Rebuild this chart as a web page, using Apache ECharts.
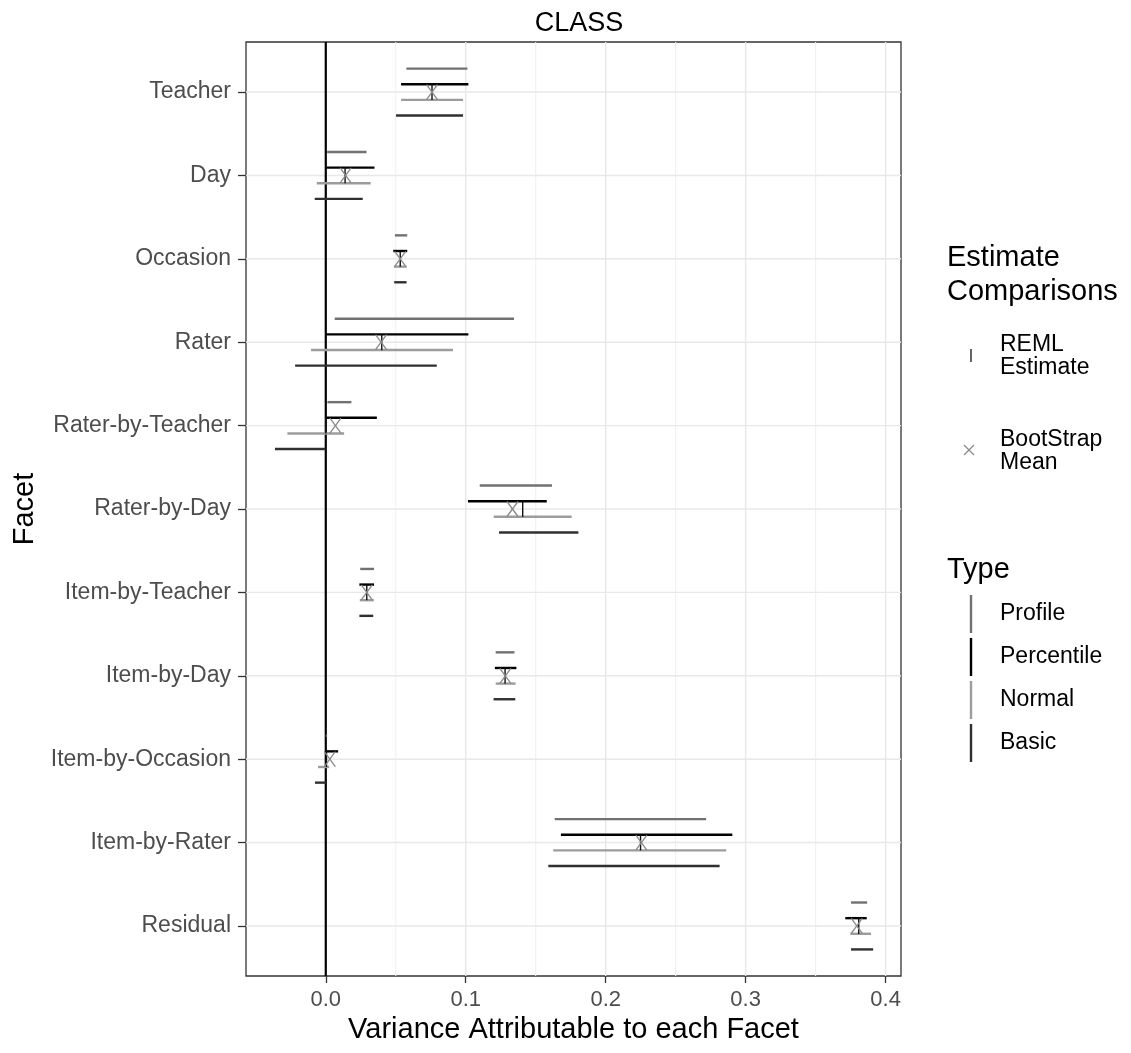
<!DOCTYPE html>
<html>
<head>
<meta charset="utf-8">
<script src="https://cdn.jsdelivr.net/npm/echarts@6/dist/echarts.min.js"></script>
<style>
html,body{margin:0;padding:0;background:#fff;}
#chart{width:1131px;height:1053px;}
</style>
</head>
<body>
<div id="chart"></div>
<script>
// ---- Data ----
const categories = ['Teacher','Day','Occasion','Rater','Rater-by-Teacher','Rater-by-Day','Item-by-Teacher','Item-by-Day','Item-by-Occasion','Item-by-Rater','Residual'];

const profileLow     = [0.0576, 0.0010, 0.0494, 0.0064, 0.0012, 0.1100, 0.0246, 0.1214, 0.0000, 0.1636, 0.3753];
const profileHigh    = [0.1012, 0.0291, 0.0582, 0.1345, 0.0183, 0.1616, 0.0345, 0.1348, 0.0010, 0.2718, 0.3868];
const percentileLow  = [0.0538, 0.0005, 0.0482, 0.0005, 0.0003, 0.1016, 0.0240, 0.1208, 0.0004, 0.1680, 0.3712];
const percentileHigh = [0.1019, 0.0348, 0.0582, 0.1019, 0.0365, 0.1579, 0.0345, 0.1362, 0.0088, 0.2905, 0.3865];
const normalLow      = [0.0538, -0.0064, 0.0487, -0.0105, -0.0274, 0.1200, 0.0243, 0.1214, -0.0055, 0.1625, 0.3748];
const normalHigh     = [0.0981, 0.0321, 0.0578, 0.0909, 0.0131, 0.1757, 0.0343, 0.1356, 0.0024, 0.2861, 0.3896];
const basicLow       = [0.0502, -0.0079, 0.0489, -0.0219, -0.0363, 0.1238, 0.0240, 0.1199, -0.0077, 0.1590, 0.3753];
const basicHigh      = [0.0981, 0.0264, 0.0577, 0.0793, -0.0002, 0.1805, 0.0339, 0.1354, 0.0000, 0.2814, 0.3911];
const remlEstimate   = [0.0759, 0.0138, 0.0532, 0.0400, 0.0000, 0.1407, 0.0293, 0.1281, 0.0005, 0.2249, 0.3808];
const bootstrapMean  = [0.0759, 0.0142, 0.0532, 0.0395, 0.0069, 0.1334, 0.0293, 0.1283, 0.0029, 0.2255, 0.3794];

const xTickValues = [0, 0.1, 0.2, 0.3, 0.4];
const xMinorGrid  = [0.05, 0.15, 0.25, 0.35];
const xRange = [-0.057, 0.411];

// ---- Styles ----
const FONT = '"Liberation Sans", Arial, sans-serif';
const typeNames  = ['Profile','Percentile','Normal','Basic'];
const typeColors = ['#717171','#000000','#9c9c9c','#303030'];
const dodge      = [-0.28125, -0.09375, 0.09375, 0.28125];
const typeLows   = [profileLow, percentileLow, normalLow, basicLow];
const typeHighs  = [profileHigh, percentileHigh, normalHigh, basicHigh];
const yTickValues = categories.map((c, i) => i);
const yRange = [-0.6, categories.length - 1 + 0.6];

function intervalSeries(k) {
  return {
    type: 'custom',
    name: typeNames[k],
    z: 5,
    encode: {x: [0, 1], y: 2},
    data: categories.map((c, i) => [typeLows[k][i], typeHighs[k][i], i]),
    renderItem: function (params, api) {
      const i = api.value(2);
      const p1 = api.coord([api.value(0), i + dodge[k]]);
      const p2 = api.coord([api.value(1), i + dodge[k]]);
      return {type: 'line', shape: {x1: p1[0], y1: p1[1], x2: p2[0], y2: p2[1]},
              style: {stroke: typeColors[k], lineWidth: 2.4}};
    }
  };
}

const series = [];
// vertical grid lines (major + minor)
series.push({
  type: 'custom', silent: true, z: 1, encode: {x: 0},
  data: xTickValues.map(v => [v, 1]).concat(xMinorGrid.map(v => [v, 0])),
  renderItem: function (params, api) {
    const v = api.value(0);
    const a = api.coord([v, yRange[0]]), b = api.coord([v, yRange[1]]);
    return {type: 'line', shape: {x1: a[0], y1: a[1], x2: b[0], y2: b[1]},
            style: {stroke: api.value(1) ? '#e8e8e8' : '#f0f0f0', lineWidth: api.value(1) ? 1.4 : 1.1}};
  }
});
// horizontal grid lines at categories
series.push({
  type: 'custom', silent: true, z: 1, encode: {y: 0},
  data: yTickValues.map(v => [v]),
  renderItem: function (params, api) {
    const v = api.value(0);
    const a = api.coord([xRange[0], v]), b = api.coord([xRange[1], v]);
    return {type: 'line', shape: {x1: a[0], y1: a[1], x2: b[0], y2: b[1]},
            style: {stroke: '#e8e8e8', lineWidth: 1.4}};
  }
});
// zero reference line
series.push({
  type: 'custom', silent: true, z: 3, encode: {x: 0},
  data: [[0]],
  renderItem: function (params, api) {
    const a = api.coord([api.value(0), yRange[0]]), b = api.coord([api.value(0), yRange[1]]);
    return {type: 'line', shape: {x1: a[0], y1: a[1], x2: b[0], y2: b[1]},
            style: {stroke: '#000', lineWidth: 2.2}};
  }
});
for (let k = 0; k < 4; k++) series.push(intervalSeries(k));
// REML estimate "|"
series.push({
  type: 'custom', name: 'REML Estimate', z: 7, encode: {x: 0, y: 1},
  data: categories.map((c, i) => [remlEstimate[i], i]),
  renderItem: function (params, api) {
    const i = api.value(1);
    const a = api.coord([api.value(0), i - 0.095]), b = api.coord([api.value(0), i + 0.095]);
    return {type: 'line', shape: {x1: a[0], y1: a[1], x2: b[0], y2: b[1]},
            style: {stroke: '#111', lineWidth: 1.4}};
  }
});
// Bootstrap mean "x"
series.push({
  type: 'custom', name: 'BootStrap Mean', z: 8, encode: {x: 0, y: 1},
  data: categories.map((c, i) => [bootstrapMean[i], i]),
  renderItem: function (params, api) {
    const p = api.coord([api.value(0), api.value(1)]);
    const hw = 5.5, hh = 7.5;
    return {type: 'group', children: [
      {type: 'line', shape: {x1: p[0]-hw, y1: p[1]-hh, x2: p[0]+hw, y2: p[1]+hh}, style: {stroke: '#8a8a8a', lineWidth: 1.3}},
      {type: 'line', shape: {x1: p[0]-hw, y1: p[1]+hh, x2: p[0]+hw, y2: p[1]-hh}, style: {stroke: '#8a8a8a', lineWidth: 1.3}}
    ]};
  }
});

// ---- Legend (drawn as graphic) ----
const legendTypeY = [614, 657, 700, 743];
const TITLE_FONT = '29px ' + FONT;
const TEXT_FONT = '23px ' + FONT;
const graphic = [
  {type: 'text', left: 947, top: 241, style: {text: 'Estimate\nComparisons', font: TITLE_FONT, fill: '#000', lineHeight: 34}},
  {type: 'line', shape: {x1: 971, y1: 349, x2: 971, y2: 362}, style: {stroke: '#111', lineWidth: 1.3}},
  {type: 'text', left: 1000, top: 333, style: {text: 'REML\nEstimate', font: TEXT_FONT, fill: '#000', lineHeight: 23}},
  {type: 'line', shape: {x1: 964, y1: 445, x2: 974, y2: 455}, style: {stroke: '#8a8a8a', lineWidth: 1.2}},
  {type: 'line', shape: {x1: 964, y1: 455, x2: 974, y2: 445}, style: {stroke: '#8a8a8a', lineWidth: 1.2}},
  {type: 'text', left: 1000, top: 428, style: {text: 'BootStrap\nMean', font: TEXT_FONT, fill: '#000', lineHeight: 23}},
  {type: 'text', left: 947, top: 553, style: {text: 'Type', font: TITLE_FONT, fill: '#000', lineHeight: 34}}
];
typeNames.forEach((n, k) => {
  const y = legendTypeY[k];
  graphic.push({type: 'line', shape: {x1: 971, y1: y - 19, x2: 971, y2: y + 19}, style: {stroke: typeColors[k], lineWidth: 2.4}});
  graphic.push({type: 'text', left: 1000, top: y - 12, style: {text: n, font: TEXT_FONT, fill: '#000', lineHeight: 24}});
});

const chart = echarts.init(document.getElementById('chart'), null, {renderer: 'canvas'});
chart.setOption({
  backgroundColor: '#fff',
  animation: false,
  title: {text: 'CLASS', left: 574, top: 5, textAlign: 'center',
          textStyle: {fontFamily: FONT, fontSize: 27, fontWeight: 'normal', color: '#000'}},
  grid: {left: 246, top: 42, width: 655, height: 934, show: true, backgroundColor: '#fff',
         borderColor: '#333', borderWidth: 1.3},
  xAxis: {
    type: 'value', min: xRange[0], max: xRange[1],
    name: 'Variance Attributable to each Facet', nameLocation: 'middle', nameGap: 38,
    nameTextStyle: {fontFamily: FONT, fontSize: 29, color: '#000'},
    axisLine: {show: false, onZero: false},
    axisTick: {show: true, length: 7, customValues: xTickValues, lineStyle: {color: '#333', width: 1.3}},
    axisLabel: {customValues: xTickValues, formatter: v => v.toFixed(1), margin: 13,
                fontFamily: FONT, fontSize: 22, color: '#4d4d4d'},
    splitLine: {show: false}
  },
  yAxis: {
    type: 'value', inverse: true, min: yRange[0], max: yRange[1],
    name: 'Facet', nameLocation: 'middle', nameGap: 207, nameRotate: 90,
    nameTextStyle: {fontFamily: FONT, fontSize: 29, color: '#000'},
    axisLine: {show: false, onZero: false},
    axisTick: {show: true, length: 8, customValues: yTickValues, lineStyle: {color: '#333', width: 1.3}},
    axisLabel: {customValues: yTickValues, formatter: v => categories[Math.round(v)], margin: 15,
                fontFamily: FONT, fontSize: 23, color: '#4d4d4d'},
    splitLine: {show: false}
  },
  graphic: graphic,
  series: series
});
</script>
</body>
</html>
